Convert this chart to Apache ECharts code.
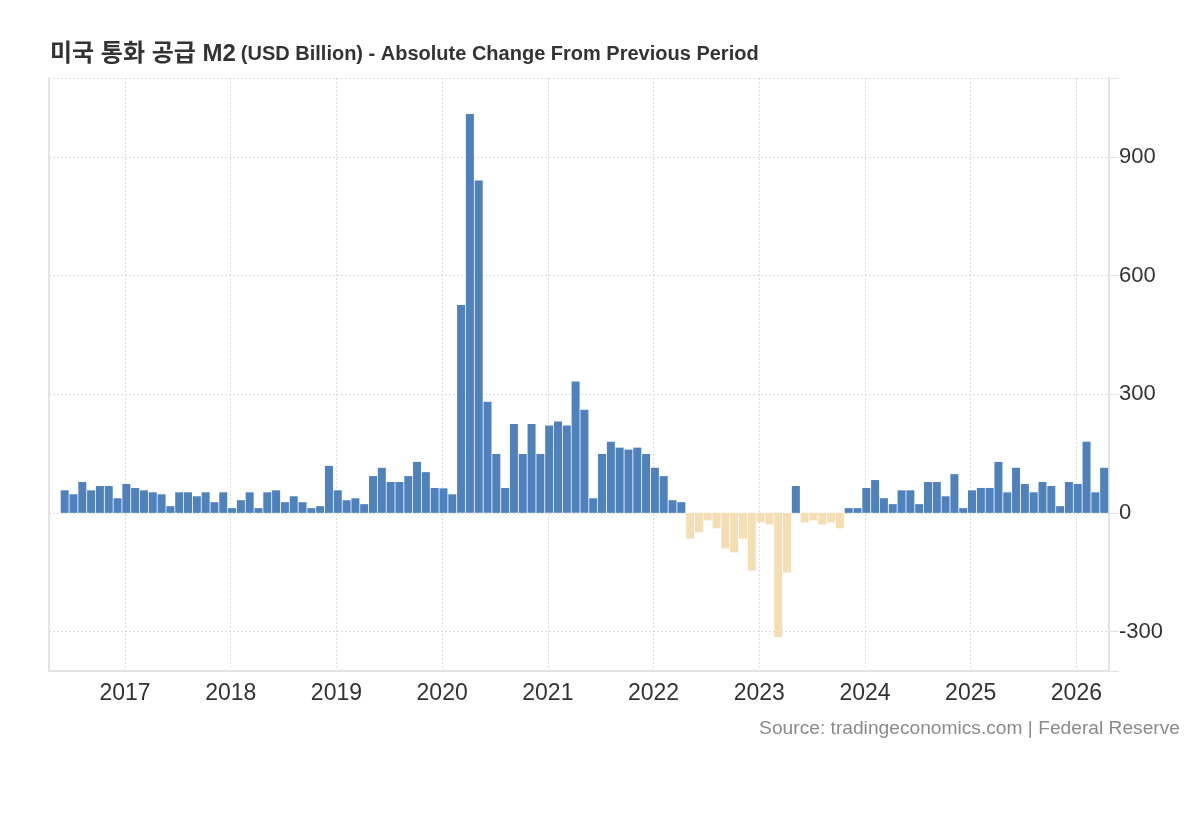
<!DOCTYPE html>
<html>
<head>
<meta charset="utf-8">
<script src="https://cdn.jsdelivr.net/npm/echarts@6/dist/echarts.min.js"></script>
<style>
  html, body { margin: 0; padding: 0; background: #fff; }
  #chart { width: 1200px; height: 820px; }
</style>
</head>
<body>
<div id="chart"></div>
<script>
  // 미국 M2 월별 변화량 (USD Billion), 2016-06 ~ 2026-04
  const firstMonth = '2016-06'
  const m2Change = [
    // 2016 (Jun-Dec)
    57, 47, 78, 57, 68, 68, 37,
    // 2017
    73, 63, 57, 52, 47, 17, 52, 52, 42, 52, 27, 52,
    // 2018
    12, 32, 52, 12, 52, 57, 27, 42, 27, 12, 17, 119,
    // 2019
    57, 32, 37, 22, 93, 114, 78, 78, 93, 129, 103, 63,
    // 2020
    62, 47, 526, 1009, 841, 281, 149, 63, 225, 149, 225, 149,
    // 2021
    221, 231, 221, 332, 261, 37, 149, 180, 165, 160, 165, 149,
    // 2022
    114, 93, 32, 27, -65, -49, -19, -39, -90, -100, -65, -146,
    // 2023
    -24, -29, -314, -151, 68, -24, -19, -29, -24, -39, 12, 12,
    // 2024
    63, 83, 37, 22, 57, 57, 22, 78, 78, 42, 98, 12,
    // 2025
    57, 63, 63, 129, 52, 114, 73, 52, 78, 68, 17, 78,
    // 2026 (Jan-Apr)
    73, 180, 52, 114
  ]
  const yearLabels = [2017, 2018, 2019, 2020, 2021, 2022, 2023, 2024, 2025, 2026]
  const yTickLabels = [-300, 0, 300, 600, 900]

  // x 좌표는 2016년 1월부터의 개월 수
  const baseYear = 2016
  const startIdx = (Number(firstMonth.slice(0, 4)) - baseYear) * 12 + Number(firstMonth.slice(5)) - 1
  const barData = m2Change.map((v, i) => [startIdx + i + 0.15, v])
  const yearTicks = yearLabels.map(y => (y - baseYear) * 12)

  const gridLine = { show: true, lineStyle: { color: '#dcdcdc', width: 1, type: [2, 2] } }
  const axisGray = '#e3e3e3'

  var chart = echarts.init(document.getElementById('chart'))
  const option = {
    backgroundColor: '#fff',
    animation: false,
    title: {
      left: 45,
      top: 37,
      text: '{a|미국 통화 공급 M2} {b|(USD Billion) - Absolute Change From Previous Period}',
      textStyle: {
        rich: {
          a: { fontSize: 24, fontWeight: 'bold', color: '#333', fontFamily: 'Liberation Sans, Noto Sans CJK KR' },
          b: { fontSize: 20, fontWeight: 'bold', color: '#333', fontFamily: 'Liberation Sans, Noto Sans CJK KR' }
        }
      }
    },
    graphic: [{
      type: 'text',
      right: 20,
      top: 719,
      style: {
        text: 'Source: tradingeconomics.com | Federal Reserve',
        fill: '#8a8a8a',
        font: '19.2px Liberation Sans'
      }
    }],
    grid: { left: 49, right: 91, top: 78, bottom: 149, containLabel: false },
    xAxis: {
      type: 'value',
      min: 3.37,
      max: 123.7,
      axisLine: { show: true, onZero: false, lineStyle: { color: axisGray, width: 2 } },
      axisTick: { show: false, customValues: yearTicks },
      axisLabel: {
        customValues: yearTicks,
        formatter: v => String(baseYear + v / 12),
        color: '#333',
        fontSize: 23,
        fontFamily: 'Liberation Sans',
        margin: 11
      },
      splitLine: gridLine
    },
    yAxis: [{
      type: 'value',
      position: 'right',
      min: -400,
      max: 1100,
      axisLine: { show: true, lineStyle: { color: axisGray, width: 2 } },
      axisTick: { show: true, length: 10, customValues: [-400].concat(yTickLabels, [1100]), lineStyle: { color: axisGray } },
      axisLabel: {
        customValues: yTickLabels,
        color: '#333',
        fontSize: 22,
        fontFamily: 'Liberation Sans',
        margin: 10,
        padding: [0, 0, 6, 0]
      },
      splitLine: gridLine
    }, {
      type: 'value',
      position: 'left',
      min: -400,
      max: 1100,
      axisLine: { show: true, lineStyle: { color: axisGray, width: 2 } },
      axisTick: { show: false },
      axisLabel: { show: false },
      splitLine: { show: false }
    }],
    series: [{
      type: 'bar',
      yAxisIndex: 0,
      barWidth: 8,
      data: barData,
      itemStyle: {
        color: p => (p.value[1] >= 0 ? '#4f81bd' : '#f5deb3')
      }
    }]
  }
  chart.setOption(option)
</script>
</body>
</html>
